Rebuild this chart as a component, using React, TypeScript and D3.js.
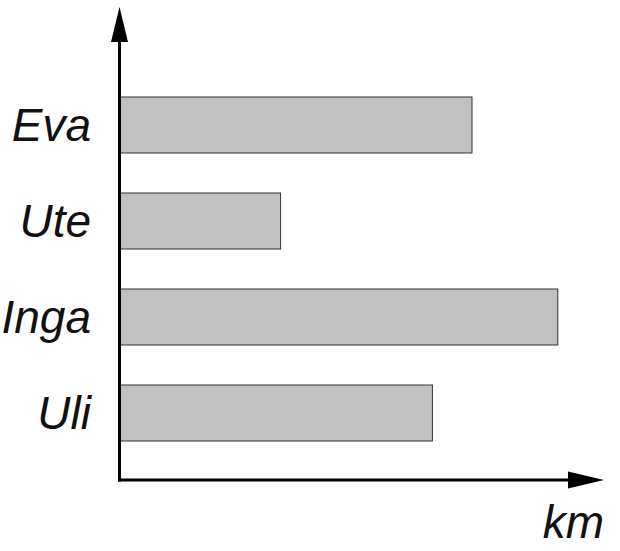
import React, { useEffect, useRef } from 'react';
import * as d3 from 'd3';

const names: string[] = ['Eva', 'Ute', 'Inga', 'Uli'];
const distances: number[] = [8, 3.65, 9.95, 7.1];
const unitLabel = 'km';

const App: React.FC = () => {
    const chartRef = useRef<SVGSVGElement | null>(null);

    useEffect(() => {
        if (!chartRef.current) return;

        const width = 620;
        const height = 551;
        const originX = 120;
        const originY = 480;

        d3.select(chartRef.current).selectAll('*').remove();

        const svg = d3.select(chartRef.current)
            .attr('width', width)
            .attr('height', height);

        svg.append('rect')
            .attr('width', width)
            .attr('height', height)
            .attr('fill', '#fff');

        const x = d3.scaleLinear()
            .domain([0, 11])
            .range([originX, originX + 484]);

        const y = d3.scaleBand()
            .domain(names)
            .range([77, 461])
            .paddingInner(0.4167)
            .paddingOuter(0.2083);

        // bars
        svg.selectAll('rect.bar')
            .data(distances)
            .enter()
            .append('rect')
            .attr('class', 'bar')
            .attr('x', x(0))
            .attr('y', (d, i) => y(names[i])!)
            .attr('width', d => x(d) - x(0))
            .attr('height', y.bandwidth())
            .attr('fill', '#c0c0c0')
            .attr('stroke', '#333')
            .attr('stroke-width', 1);

        // name labels
        svg.selectAll('text.name')
            .data(names)
            .enter()
            .append('text')
            .attr('class', 'name')
            .attr('x', 91)
            .attr('y', d => y(d)! + y.bandwidth() / 2 + 16)
            .attr('text-anchor', 'end')
            .style('font-family', '"Liberation Sans", Arial, sans-serif')
            .style('font-style', 'italic')
            .style('font-size', '46px')
            .style('fill', '#111')
            .text(d => d);

        // axes with arrows
        const axis = svg.append('g').attr('stroke', '#000').attr('stroke-width', 3);
        axis.append('line')
            .attr('x1', 119.5).attr('y1', originY + 1.5)
            .attr('x2', 119.5).attr('y2', 40);
        axis.append('line')
            .attr('x1', 118).attr('y1', originY)
            .attr('x2', 570).attr('y2', originY);

        svg.append('path')
            .attr('d', 'M119.5,7 L128,42 L111,42 Z')
            .attr('fill', '#000');
        svg.append('path')
            .attr('d', `M604,${originY} L568,${originY - 8.5} L568,${originY + 8.5} Z`)
            .attr('fill', '#000');

        svg.append('text')
            .attr('x', 604)
            .attr('y', 538)
            .attr('text-anchor', 'end')
            .style('font-family', '"Liberation Sans", Arial, sans-serif')
            .style('font-style', 'italic')
            .style('font-size', '46px')
            .style('fill', '#111')
            .text(unitLabel);
    }, []);

    return <svg ref={chartRef} style={{ position: 'absolute', left: 0, top: 0, display: 'block' }} />;
};

export default App;
